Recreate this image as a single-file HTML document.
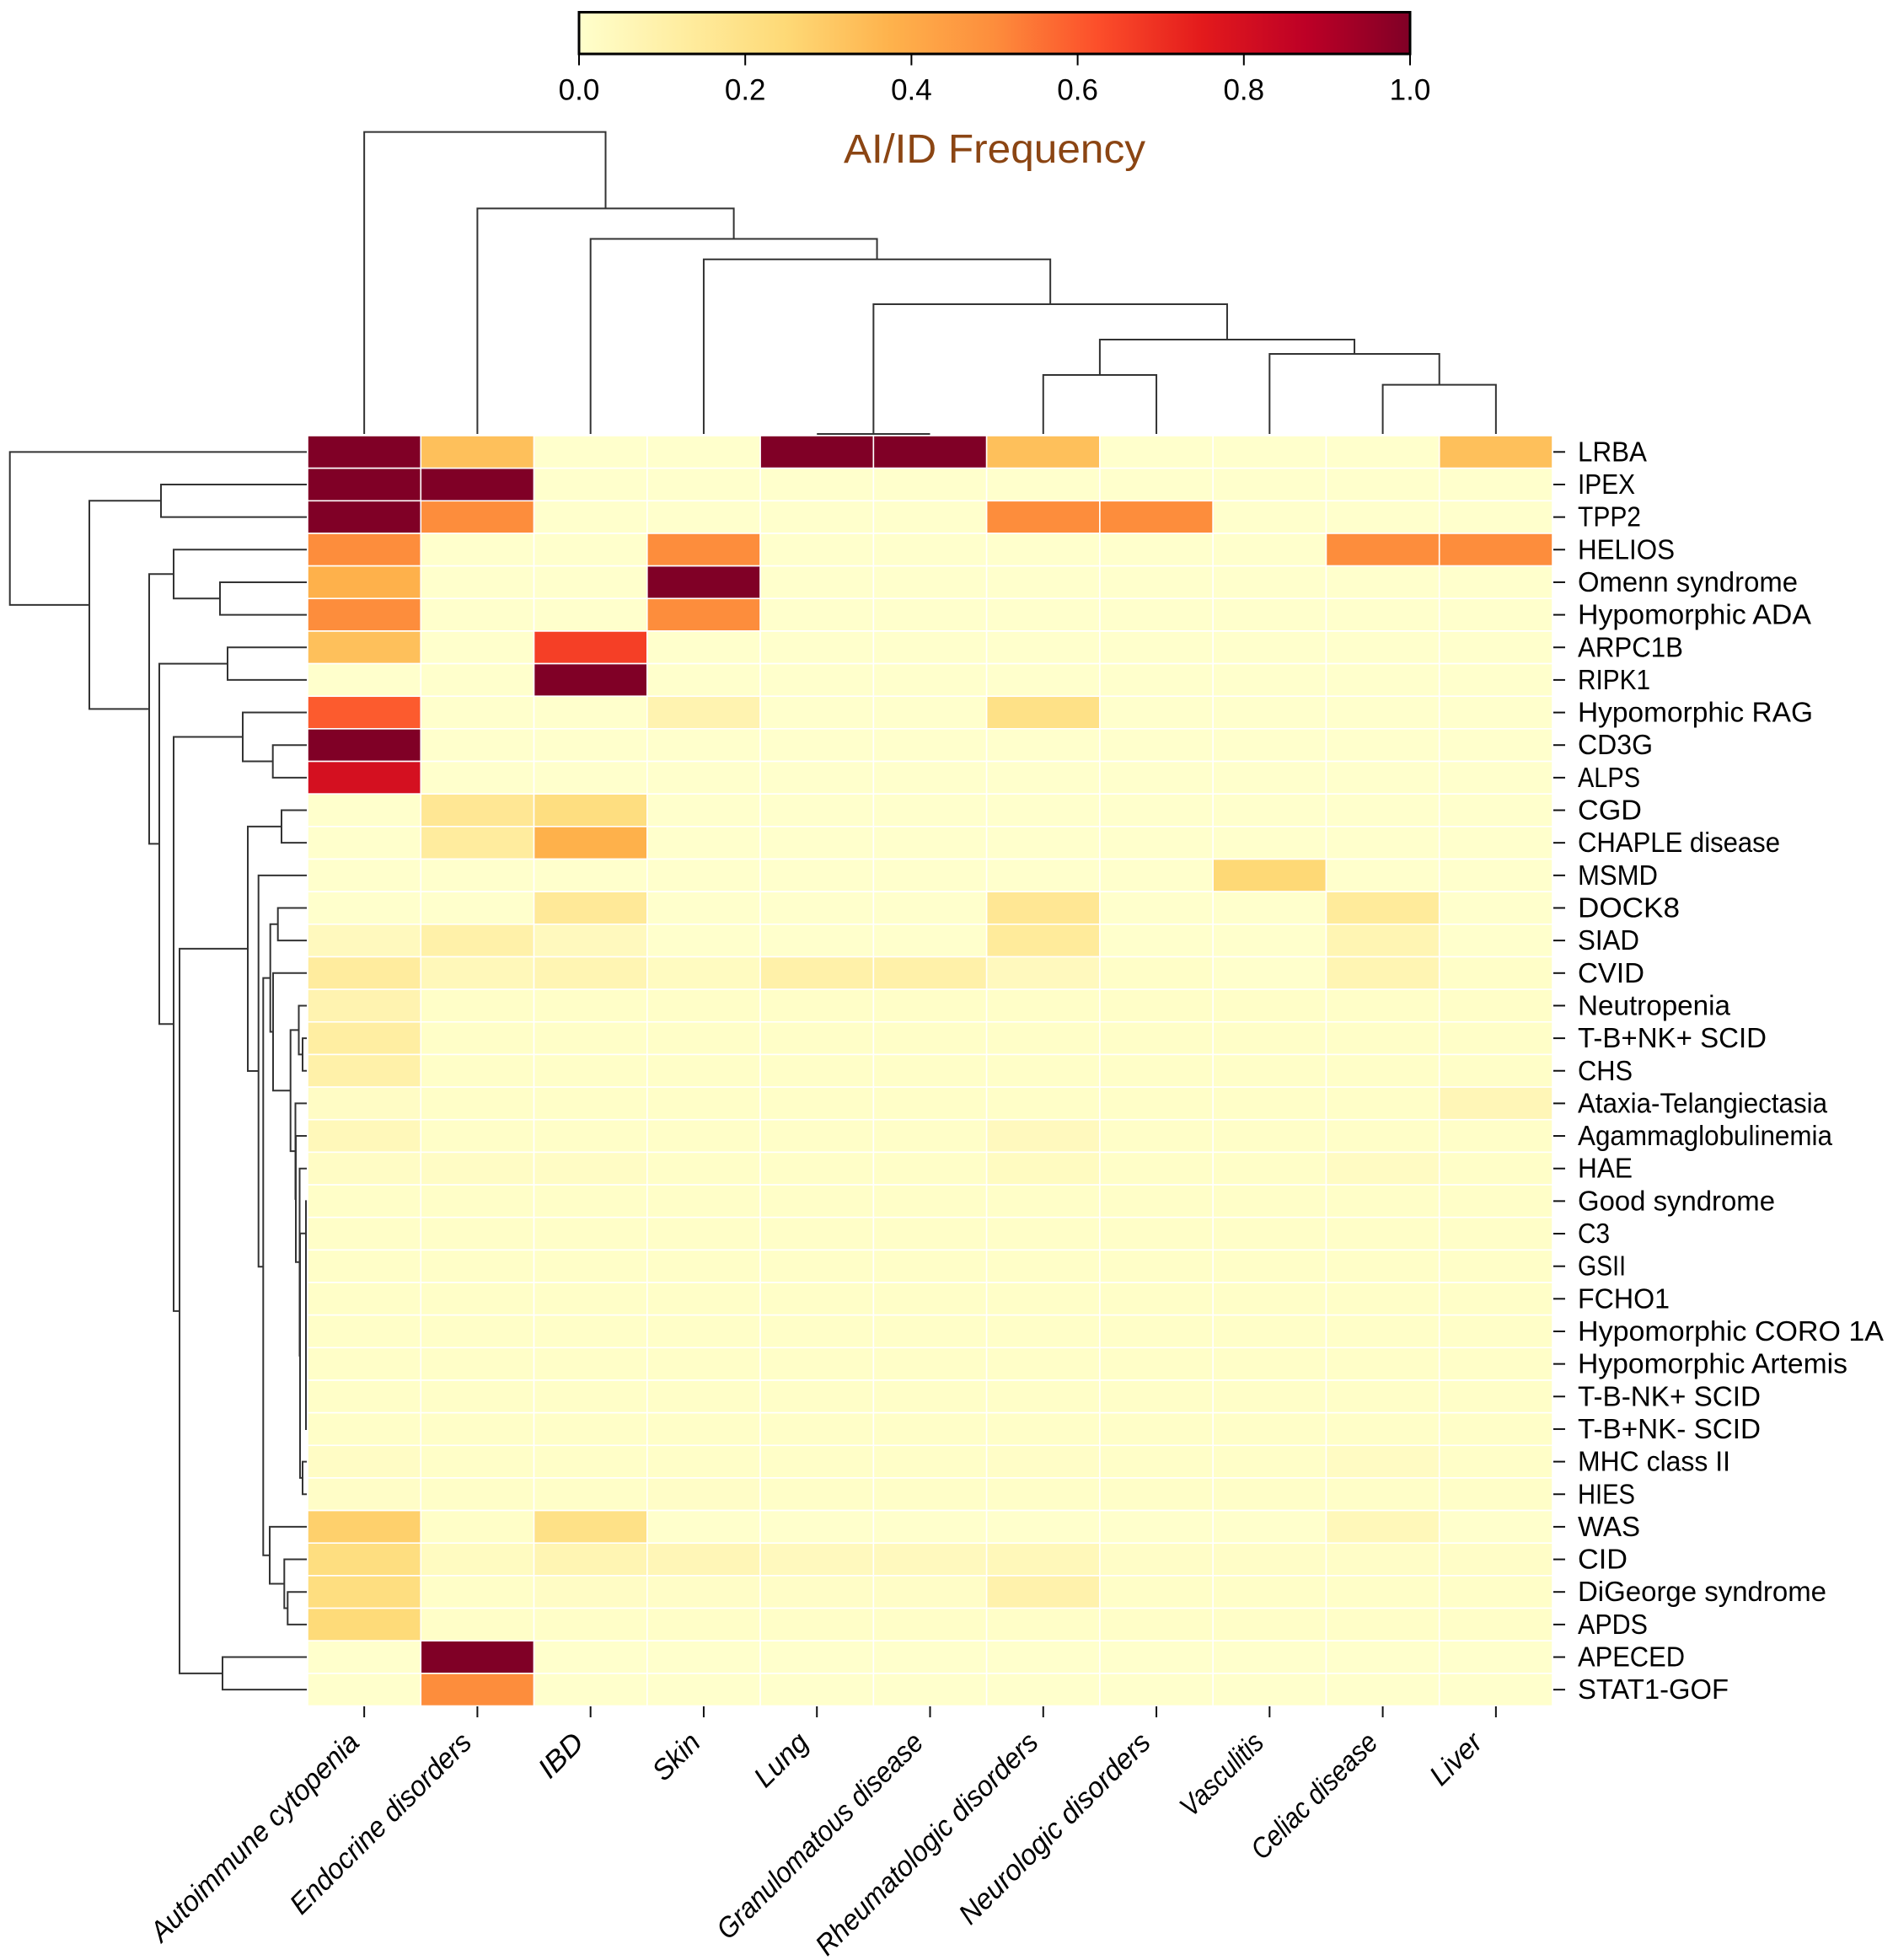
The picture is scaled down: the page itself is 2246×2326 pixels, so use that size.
<!DOCTYPE html>
<html lang="en">
<head>
<meta charset="utf-8">
<title>AI/ID Frequency clustered heatmap</title>
<style>
html,body{margin:0;padding:0;background:#fff;}
svg{display:block;font-family:"Liberation Sans",sans-serif;}
</style>
</head>
<body>
<svg id="chart" xmlns="http://www.w3.org/2000/svg" width="2246" height="2326" viewBox="0 0 2246 2326">
  <rect x="0" y="0" width="2246" height="2326" fill="#ffffff"/>
  <defs>
    <linearGradient id="ylorrd" x1="0" x2="1" y1="0" y2="0"></linearGradient>
  </defs>
  <g id="col-dendro" fill="none" stroke="#333333" stroke-width="2"></g>
  <g id="row-dendro" fill="none" stroke="#333333" stroke-width="2"></g>
  <g id="cells"></g>
  <g id="x-axis"></g>
  <g id="y-axis"></g>
  <g id="colorbar">
    <rect x="687" y="14.5" width="986" height="49.5" fill="url(#ylorrd)" stroke="#000000" stroke-width="3"/>
  </g>
  <text x="1001" y="193" font-size="48" fill="#8b4513" textLength="358" lengthAdjust="spacingAndGlyphs">AI/ID Frequency</text>
</svg>
<script>
const colLabels = ["Autoimmune cytopenia","Endocrine disorders","IBD","Skin","Lung","Granulomatous disease","Rheumatologic disorders","Neurologic disorders","Vasculitis","Celiac disease","Liver"];
const rowLabels = ["LRBA","IPEX","TPP2","HELIOS","Omenn syndrome","Hypomorphic ADA","ARPC1B","RIPK1","Hypomorphic RAG","CD3G","ALPS","CGD","CHAPLE disease","MSMD","DOCK8","SIAD","CVID","Neutropenia","T-B+NK+ SCID","CHS","Ataxia-Telangiectasia","Agammaglobulinemia","HAE","Good syndrome","C3","GSII","FCHO1","Hypomorphic CORO 1A","Hypomorphic Artemis","T-B-NK+ SCID","T-B+NK- SCID","MHC class II","HIES","WAS","CID","DiGeorge syndrome","APDS","APECED","STAT1-GOF"];
const heatValues = [
[1,.33,0,0,1,1,.33,0,0,0,.33],
[1,1,0,0,0,0,0,0,0,0,0],
[1,.5,0,0,0,0,.5,.5,0,0,0],
[.5,0,0,.5,0,0,0,0,0,.5,.5],
[.38,0,0,1,0,0,0,0,0,0,0],
[.5,0,0,.5,0,0,0,0,0,0,0],
[.33,0,.66,0,0,0,0,0,0,0,0],
[0,0,1,0,0,0,0,0,0,0,0],
[.6,0,0,.08,0,0,.2,0,0,0,0],
[1,0,0,0,0,0,0,0,0,0,0],
[.8,0,0,0,0,0,0,0,0,0,0],
[0,.16,.22,0,0,0,0,0,0,0,0],
[0,.13,.38,0,0,0,0,0,0,0,0],
[0,0,0,0,0,0,0,0,.25,0,0],
[0,0,.15,0,0,0,.16,0,0,.14,0],
[.04,.1,.04,0,0,0,.14,0,0,.07,0],
[.13,.05,.07,.03,.1,.1,.04,.01,0,.07,.01],
[.08,.01,.01,.01,.01,.01,.01,.01,.01,.01,.01],
[.12,.01,.01,.01,.01,.01,.01,.01,.01,.01,.01],
[.1,.01,.01,.01,.01,.01,.01,.01,.01,.01,.01],
[.02,.01,.01,.01,.01,.01,.01,.01,.01,.01,.06],
[.05,.01,.01,.01,.01,.01,.04,.01,.01,.01,.01],
[.02,.02,.02,.01,.01,.01,.03,.01,.01,.025,.01],
[.01,.01,.01,.01,.01,.01,.01,.01,.01,.01,.01],
[.01,.01,.01,.01,.01,.01,.01,.01,.01,.01,.01],
[.01,.01,.01,.01,.01,.01,.01,.01,.01,.01,.01],
[.01,.01,.01,.01,.01,.01,.01,.01,.01,.01,.01],
[.01,.01,.01,.01,.01,.01,.01,.01,.01,.01,.01],
[.01,.01,.01,.01,.01,.01,.01,.01,.01,.01,.01],
[.01,.01,.01,.01,.01,.01,.01,.01,.01,.01,.01],
[.01,.01,.01,.01,.01,.01,.01,.01,.01,.01,.01],
[.02,.01,.01,.01,.01,.01,.015,.01,.01,.025,.01],
[.015,.01,.01,.015,.01,.01,.01,.01,.01,.01,.01],
[.28,.01,.2,0,0,0,0,0,0,.05,0],
[.22,.03,.07,.06,.04,.04,.05,.015,.015,.015,.015],
[.22,.01,.02,.015,.015,.015,.09,.01,.01,.01,.01],
[.24,.01,.01,.01,.01,.01,.01,.01,.01,.01,.01],
[0,1,0,0,0,0,0,0,0,0,0],
[0,.5,0,0,0,0,0,0,0,0,0]
];
const colMerges = [[4,5,0],[6,7,.7],[9,10,.584],[8,13,.95],[12,14,1.12],[11,15,1.54],[3,16,2.073],[2,17,2.315],[1,18,2.676],[0,19,3.584]];
const rowMerges = [[29,30,.01],[28,39,.01],[27,40,.01],[26,41,.01],[25,42,.01],[24,43,.01],[23,44,.01],[31,32,.05],[45,46,.08],[22,47,.085],[21,48,.13],[20,49,.135],[18,19,.05],[17,51,.095],[52,50,.193],[16,53,.4],[14,15,.343],[55,54,.433],[35,36,.227],[34,57,.267],[33,58,.44],[56,59,.517],[13,60,.573],[11,12,.3],[62,61,.7],[37,38,1],[63,64,1.51],[9,10,.403],[8,66,.76],[67,65,1.58],[6,7,.94],[69,68,1.75],[4,5,1.03],[3,71,1.58],[72,70,1.87],[1,2,1.73],[74,73,2.58],[0,75,3.523]];
const colorbarTicks = ["0.0","0.2","0.4","0.6","0.8","1.0"];
const paletteStops = ["#ffffcc","#ffeda0","#fed976","#feb24c","#fd8d3c","#fc4e2a","#e31a1c","#bd0026","#800026"];

/* rendered text widths of the original typeface, layout only */
const rowLabelFit = [82,68,75,115,261,277,125,86,279,89,74,76,240,95,121,73,79,181,224,65,296,302,65,234,38,57,109,363,320,217,217,181,68,74,59,295,83,127,179];
const colLabelFit = [334,288,60,64,75,330,357,305,124,196,72];
const colLabelNudge = [4,5,6,2,8,6,4,5,5,4,14];

const NS = "http://www.w3.org/2000/svg";
const HEAT = {left:365, right:1842, top:517, bottom:2024.5};
const cellW = (HEAT.right - HEAT.left) / colLabels.length;
const cellH = (HEAT.bottom - HEAT.top) / rowLabels.length;
const colX = i => HEAT.left + (i + .5) * cellW;
const rowY = i => HEAT.top + (i + .5) * cellH;
const rowDistX = h => 364 - h * 100;
const colDistY = h => 515 - h * 100;
const barX = v => 687 + v * 986;

function hexToRgb(h){return [1,3,5].map(p => parseInt(h.substr(p,2),16));}
function colorFor(v){
  const t = Math.max(0, Math.min(1, v)) * (paletteStops.length - 1);
  const i = Math.min(Math.floor(t), paletteStops.length - 2);
  const a = hexToRgb(paletteStops[i]), b = hexToRgb(paletteStops[i + 1]);
  const f = t - i;
  return "rgb(" + a.map((c, k) => Math.round(c + (b[k] - c) * f)).join(",") + ")";
}
function make(tag, attrs, parent){
  const el = document.createElementNS(NS, tag);
  for (const k in attrs) el.setAttribute(k, attrs[k]);
  parent.appendChild(el);
  return el;
}
const slug = s => s.toLowerCase().replace(/[^a-z0-9]+/g, "-").replace(/^-|-$/g, "");

/* gradient */
const grad = document.getElementById("ylorrd");
paletteStops.forEach((c, i) => {
  make("stop", {offset: i / (paletteStops.length - 1), "stop-color": c}, grad);
});

/* heat cells */
const cellsG = document.getElementById("cells");
heatValues.forEach((row, r) => {
  row.forEach((v, c) => {
    const el = make("rect", {x: HEAT.left + c * cellW, y: HEAT.top + r * cellH, width: cellW, height: cellH, fill: colorFor(v), stroke: "#ffffff", "stroke-width": 1.6}, cellsG);
    
    
  });
});

/* dendrograms */
function drawDendro(merges, leafCount, parent, horizontal, namePrefix){
  const pos = [];
  const dist = [];
  for (let i = 0; i < leafCount; i++){ pos[i] = i; dist[i] = 0; }
  merges.forEach((m, k) => {
    const [a, b, h] = m;
    const id = leafCount + k;
    pos[id] = (pos[a] + pos[b]) / 2;
    dist[id] = h;
    let d;
    if (horizontal){
      const xA = rowDistX(dist[a]), xB = rowDistX(dist[b]), xM = rowDistX(h);
      const yA = rowY(pos[a]), yB = rowY(pos[b]);
      d = "M" + xA + " " + yA + "L" + xM + " " + yA + "L" + xM + " " + yB + "L" + xB + " " + yB;
    } else {
      const yA = colDistY(dist[a]), yB = colDistY(dist[b]), yM = colDistY(h);
      const xA = colX(pos[a]), xB = colX(pos[b]);
      d = "M" + xA + " " + yA + "L" + xA + " " + yM + "L" + xB + " " + yM + "L" + xB + " " + yB;
    }
    const el = make("path", {d: d}, parent);
    
    
  });
}
drawDendro(colMerges, colLabels.length, document.getElementById("col-dendro"), false, "column-dendrogram");
drawDendro(rowMerges, rowLabels.length, document.getElementById("row-dendro"), true, "row-dendrogram");

/* x axis */
const xAxis = document.getElementById("x-axis");
colLabels.forEach((name, i) => {
  const x = colX(i);
  const tick = make("line", {x1: x, x2: x, y1: 2025, y2: 2038, stroke: "#111111", "stroke-width": 2}, xAxis);
  
  
  const ax = x - colLabelNudge[i], ay = 2070;
  const label = make("text", {x: ax, y: ay, "text-anchor": "end", "font-size": 34, "font-style": "italic", fill: "#000000", transform: "rotate(-45 " + ax + " " + ay + ")", textLength: colLabelFit[i], lengthAdjust: "spacingAndGlyphs"}, xAxis);
  label.textContent = name;
  
  
});

/* y axis */
const yAxis = document.getElementById("y-axis");
rowLabels.forEach((name, i) => {
  const y = rowY(i);
  const tick = make("line", {x1: 1843, x2: 1857, y1: y, y2: y, stroke: "#111111", "stroke-width": 2}, yAxis);
  
  
  const label = make("text", {x: 1872, y: y + 11, "font-size": 33, fill: "#000000", textLength: rowLabelFit[i], lengthAdjust: "spacingAndGlyphs"}, yAxis);
  label.textContent = name;
  
  
});

/* colorbar axis */
const cbar = document.getElementById("colorbar");
colorbarTicks.forEach(t => {
  const x = barX(parseFloat(t));
  const tick = make("line", {x1: x, x2: x, y1: 64, y2: 77.5, stroke: "#000000", "stroke-width": 2}, cbar);
  
  
  const label = make("text", {x: x, y: 118.5, "text-anchor": "middle", "font-size": 35, fill: "#000000"}, cbar);
  label.textContent = t;
  
  
});
</script>
</body>
</html>
